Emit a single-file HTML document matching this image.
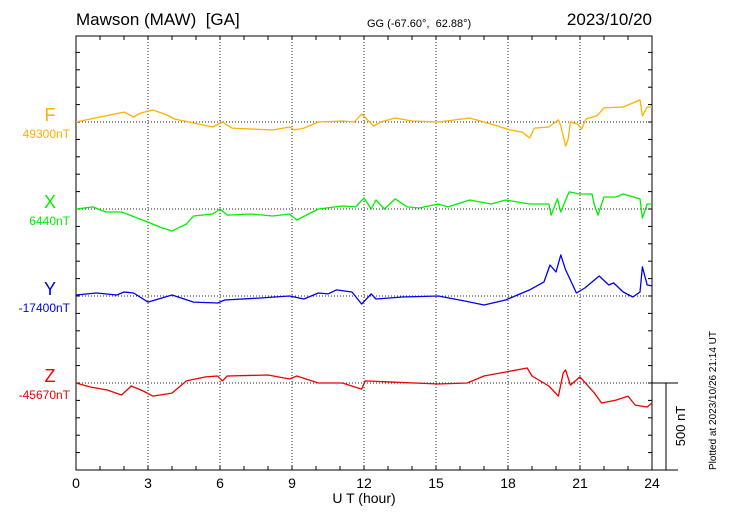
<!DOCTYPE html>
<html><head><meta charset="utf-8"><style>
body{margin:0;background:#fff}
svg{display:block;font-family:"Liberation Sans",sans-serif}
text{white-space:pre}
</style></head><body>
<svg id="chart" width="730" height="520" viewBox="0 0 730 520">
<g id="grid"></g><g id="axes"></g><g id="series"></g><g id="labels"></g>
</svg>
<script>
// data: [hour, deviation nT] relative to baseline
const hoursTicks = [0,3,6,9,12,15,18,21,24];
const fHours = [0,1.4,2,2.4,2.7,3.2,3.8,4.1,4.7,5.7,6.1,6.5,7.3,8.2,8.9,9.1,9.5,10.1,11.1,11.6,11.9,12.4,12.7,13.3,14,15.1,16.4,17.3,18.1,18.6,18.9,19.1,19.7,20.1,20.2,20.4,20.5,20.6,20.9,21.07,21.25,21.7,22,22.8,23.3,23.5,23.6,23.8,24];
const fValues = [0,40,57,29,52,69,40,17,0,-29,0,-35,-40,-46,-29,-46,-35,0,6,0,46,-23,0,23,6,0,23,-12,-46,-58,-92,-35,-29,12,-23,-138,-104,0,-12,-40,17,35,81,86,115,127,35,86,86];
const xHours = [0,0.7,1.25,1.9,3,3.5,4,4.6,4.9,5.7,6,6.3,7.3,8.2,8.9,9.2,10.1,11.1,11.65,12,12.3,12.5,12.85,13.3,13.8,14.3,15.1,15.5,16.4,17.3,17.9,18.9,19.7,19.8,20.06,20.2,20.4,20.55,21,21.5,21.6,21.75,22,22.5,22.8,23.5,23.6,23.8,24];
const xValues = [0,12,-17,-17,-75,-104,-127,-86,-40,-29,0,-35,-29,-40,-29,-63,0,17,12,63,0,52,0,58,12,6,29,12,52,29,52,29,29,-35,58,-17,52,98,86,86,23,-35,69,69,86,58,-52,29,29];
const yHours = [0,0.85,1.7,2,2.4,3,4,4.9,5.9,6.2,7.6,8.9,9.5,10.1,10.5,10.85,11.5,11.9,12.3,12.5,13.6,15.1,16.2,17,17.9,18.9,19.5,19.75,20,20.2,20.4,20.5,20.85,21.2,21.8,22.2,22.4,22.8,23.2,23.5,23.6,23.8,24];
const yValues = [6,17,6,23,17,-35,6,-35,-40,-23,-12,0,-17,17,12,35,23,-46,12,-17,-6,0,-29,-52,-23,35,81,178,138,236,150,121,17,46,115,63,75,23,-6,23,167,63,58];
const zHours = [0,0.6,1.3,1.9,2.3,2.8,3.2,4,4.6,5.4,5.9,6.1,6.3,8,8.9,9.2,10.1,11.1,11.9,12.05,15.1,16.3,17,17.9,18.8,19,19.7,20.1,20.3,20.4,20.6,21,21.6,21.9,22.5,23,23.3,23.8,24];
const zValues = [0,-23,-40,-69,-17,-46,-75,-58,12,35,40,12,40,46,23,40,0,0,-35,12,-6,0,40,63,86,40,-17,-75,58,75,-12,35,-58,-115,-98,-75,-127,-138,-115];
const seriesNames = ["F","X","Y","Z"];
const baseLabels = ["49300nT","6440nT","-17400nT","-45670nT"];

const X0=76,X1=652,Y0=36,Y1=470, NT_PX=87/500;
const baselineY=[122,209,296,383];
const colors=["#ffb000","#00ee00","#0000ee","#ee0000"];
const xs=h=>X0+(X1-X0)*h/24;
const ys=(i,v)=>baselineY[i]-v*NT_PX;
const NS="http://www.w3.org/2000/svg";
function mk(parent,tag,attrs,text){const e=document.createElementNS(NS,tag);for(const k in attrs)e.setAttribute(k,attrs[k]);if(text!==undefined)e.textContent=text;document.getElementById(parent).appendChild(e);return e;}

hoursTicks.slice(1,-1).forEach(h=>{
 const g=mk("grid","line",{x1:xs(h),x2:xs(h),y1:Y0,y2:Y1,stroke:"#222","stroke-dasharray":"1 2","stroke-width":1});
 
 
});
baselineY.forEach((b,i)=>{
 const l=mk("grid","line",{x1:X0,x2:X1,y1:b,y2:b,stroke:"#222","stroke-dasharray":"1 2","stroke-width":1});
 
 
});
const fr=mk("axes","rect",{x:X0,y:Y0,width:X1-X0,height:Y1-Y0,fill:"none",stroke:"#000","stroke-width":1});


for(let h=1;h<24;h++){
 const t1=mk("axes","line",{x1:xs(h),x2:xs(h),y1:Y0,y2:Y0+4,stroke:"#000"});
 
 
 const t2=mk("axes","line",{x1:xs(h),x2:xs(h),y1:Y1,y2:Y1-4,stroke:"#000"});
 
 
}
for(let k=1;k<25;k++){
 const y=Y1-k*100*NT_PX;
 const a=mk("axes","line",{x1:X0,x2:X0+4,y1:y,y2:y,stroke:"#000"});
 
 
 const b=mk("axes","line",{x1:X1,x2:X1-4,y1:y,y2:y,stroke:"#000"});
 
 
}
hoursTicks.forEach(h=>{
 const t=mk("labels","text",{x:xs(h),y:488,"text-anchor":"middle","font-size":14},String(h));
 
 
});
const allH=[fHours,xHours,yHours,zHours], allV=[fValues,xValues,yValues,zValues];
allH.forEach((hs,i)=>{
 const d=hs.map((h,j)=>(j?"L":"M")+xs(h).toFixed(1)+","+ys(i,allV[i][j]).toFixed(1)).join("");
 const p=mk("series","path",{d:d,fill:"none",stroke:colors[i],"stroke-width":1.3,"stroke-linejoin":"round"});
 
 
 const n=mk("labels","text",{x:50,y:baselineY[i]-1,"text-anchor":"middle","font-size":18,fill:colors[i]},seriesNames[i]);
 
 
 const bl=mk("labels","text",{x:70,y:baselineY[i]+16,"text-anchor":"end","font-size":12,fill:colors[i]},baseLabels[i]);
 
 
});
</script>
<script>
const S=document.getElementById("chart");
S.insertAdjacentHTML("beforeend",`
<text x="76" y="25" font-size="17">Mawson (MAW)  [GA]</text>
<text x="367" y="27" font-size="11">GG (-67.60°,  62.88°)</text>
<text x="652" y="25" font-size="17" text-anchor="end">2023/10/20</text>
<text x="364" y="503" font-size="14" text-anchor="middle">U T (hour)</text>
<line x1="652" x2="678" y1="383" y2="383" stroke="#000"/>
<line x1="652" x2="678" y1="470" y2="470" stroke="#000"/>
<line x1="666" x2="666" y1="383" y2="470" stroke="#000"/>
<text transform="translate(685,426) rotate(-90)" font-size="13" text-anchor="middle">500 nT</text>
<text transform="translate(716,470) rotate(-90)" font-size="10">Plotted at 2023/10/26 21:14 UT</text>
`);
</script>
</body></html>
